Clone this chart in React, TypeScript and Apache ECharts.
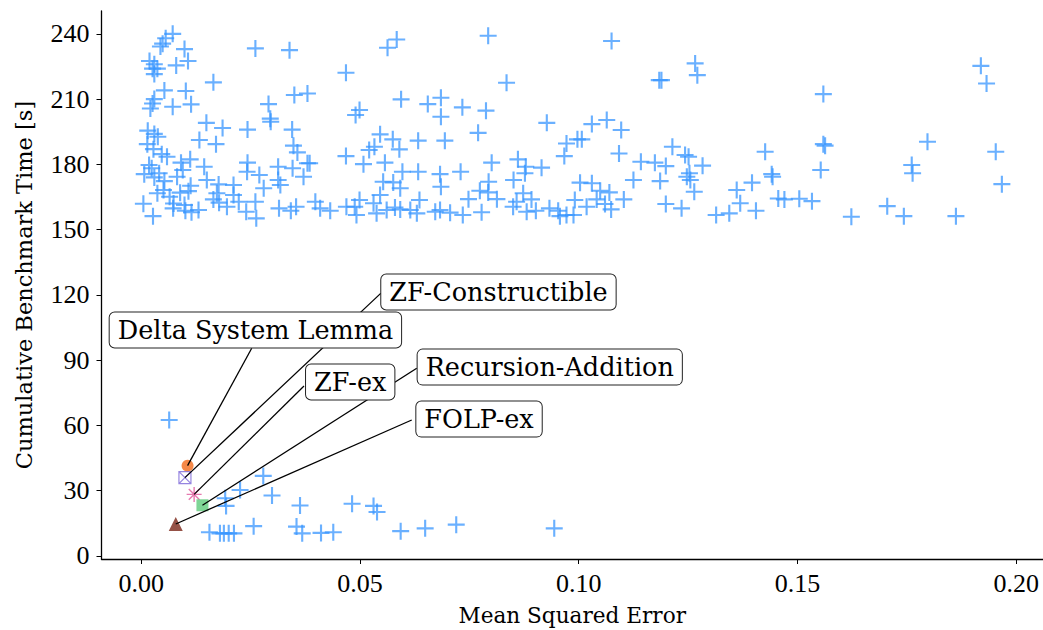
import React, { useEffect, useRef } from "react";
import * as echarts from "echarts";

// Benchmark runs: [mean squared error, cumulative benchmark time in s]
const otherRuns: [number, number][] = [
  [0.0072, 240], [0.0056, 238], [0.0049, 235.5], [0.0044, 234.2], [0.0099, 233], [0.0261, 233.3], [0.0339, 232.5],
  [0.0019, 227.5], [0.003, 226], [0.0026, 224], [0.0037, 224], [0.003, 221.5], [0.0107, 227.5], [0.008, 225.5],
  [0.0165, 217.7], [0.0053, 214], [0.003, 210], [0.0026, 208], [0.0021, 205.7], [0.0102, 213.7], [0.0114, 207.6],
  [0.0072, 206.5], [0.035, 211.9], [0.038, 212.6], [0.0291, 207.7], [0.0295, 201], [0.0296, 199.6], [0.0149, 199.1],
  [0.0186, 196.7], [0.0243, 196], [0.0345, 196], [0.0348, 188.6], [0.0357, 185.5], [0.0015, 195.5], [0.003, 194],
  [0.0038, 192.7], [0.0014, 189.3], [0.0028, 187], [0.0133, 191.2], [0.0171, 189.3], [0.038, 180.5], [0.0047, 184.7],
  [0.0059, 183.5], [0.0007, 175.5], [0.0018, 179.7], [0.0024, 178.2], [0.003, 174], [0.0041, 175.9], [0.0053, 172.3],
  [0.0051, 168.2], [0.0037, 166.7], [0.0065, 165.1], [0.0074, 162], [0.0073, 159.8], [0.0005, 161.9], [0.0027, 156.2],
  [0.0091, 180.8], [0.0095, 177.4], [0.0112, 182.3], [0.0082, 174.3], [0.0089, 167], [0.0113, 170.2], [0.0108, 167.7],
  [0.0099, 161.3], [0.0101, 158.7], [0.0115, 158], [0.0131, 159], [0.0144, 178.9], [0.015, 172.8], [0.0177, 170.8],
  [0.0211, 170.5], [0.0173, 166.7], [0.0165, 163.9], [0.0178, 162.4], [0.0196, 160.5], [0.0211, 165.9], [0.0223, 162.8],
  [0.0261, 162.8], [0.024, 158.2], [0.0263, 155.2], [0.0243, 180.8], [0.0242, 176.6], [0.027, 175.1], [0.028, 169],
  [0.0313, 178.9], [0.0313, 172.8], [0.0318, 170.5], [0.0346, 178.2], [0.0371, 174.3], [0.0385, 180.5], [0.0315, 159.8],
  [0.0342, 158.7], [0.0354, 160.5], [0.0398, 162.8], [0.0409, 159.8], [0.0432, 158.7],
  [0.0563, 233.6], [0.0584, 237.4], [0.0793, 239.1], [0.1075, 236.7], [0.1266, 226.4], [0.1271, 221], [0.0468, 222.1],
  [0.0835, 217.5], [0.1184, 218.7], [0.1189, 218.7], [0.0594, 209.9], [0.0655, 207.7], [0.0685, 210.6], [0.0685, 201.9],
  [0.0734, 206.2], [0.0788, 204.7], [0.0499, 205], [0.049, 202.7], [0.0927, 199.1], [0.103, 198.5], [0.1064, 200.4],
  [0.1097, 195.8], [0.0546, 193.8], [0.0575, 191.5], [0.059, 186.9], [0.0521, 186.6], [0.0533, 188.1], [0.0633, 190.9],
  [0.0694, 190.9], [0.077, 194.5], [0.0972, 189.6], [0.0997, 191.5], [0.1007, 191.5], [0.0967, 183.8], [0.1092, 185],
  [0.0468, 183.8], [0.0508, 180.1], [0.0557, 180.8], [0.0597, 176.6], [0.0633, 176.6], [0.0683, 175.5], [0.0685, 169.7],
  [0.073, 176.6], [0.0801, 180.8], [0.0861, 182.3], [0.0879, 178.9], [0.0877, 175.9], [0.0915, 178.5], [0.0851, 172.8],
  [0.0794, 172], [0.1125, 172.8], [0.1142, 181.2], [0.1174, 180.8], [0.1199, 179.2], [0.1214, 188.1], [0.1243, 184.3],
  [0.1251, 183.5], [0.1253, 175.9], [0.1255, 172.8], [0.1264, 167.4], [0.1186, 172.3], [0.1003, 171.6], [0.103, 171.3],
  [0.1049, 167.9], [0.107, 167.1], [0.1041, 163.9], [0.106, 161.8], [0.1074, 159.3], [0.1103, 163.9], [0.0991, 163.6],
  [0.1018, 160.5], [0.0988, 156.7], [0.0953, 158.7], [0.0957, 156.2], [0.0972, 156.7], [0.0933, 159.8], [0.0902, 158.7],
  [0.0881, 158.2], [0.0892, 163.9], [0.0873, 166.7], [0.0858, 162.8], [0.085, 160.5], [0.0813, 164], [0.0778, 158],
  [0.0748, 164], [0.0735, 156.7], [0.0706, 157.8], [0.0683, 159], [0.0672, 158.2], [0.0636, 163.6], [0.063, 157.5],
  [0.0615, 159], [0.0592, 159.3], [0.058, 160.2], [0.0561, 159], [0.0546, 165.9], [0.0538, 157.5], [0.0553, 172],
  [0.0576, 171.7], [0.0592, 169], [0.0531, 162.1], [0.0499, 163.6], [0.0488, 160.5], [0.0469, 160.5], [0.0492, 156.7],
  [0.0774, 167.9], [0.0793, 167.1], [0.1199, 161.8], [0.1235, 159.8], [0.1247, 174.3],
  [0.1559, 212.3], [0.1919, 225.3], [0.1932, 217.2], [0.1426, 185.8], [0.1559, 189.3], [0.1563, 188.6], [0.1283, 179.4],
  [0.1797, 190.4], [0.1953, 185.8], [0.1761, 179.7], [0.1763, 175.9], [0.1967, 170.9], [0.1553, 177.4], [0.1441, 175.5],
  [0.1443, 174.3], [0.1396, 171.6], [0.1361, 168.2], [0.1369, 162.1], [0.1405, 158.7], [0.1344, 157.5], [0.1314, 156.7],
  [0.1456, 164.3], [0.147, 163.9], [0.1504, 164.2], [0.1533, 163.1], [0.1623, 155.9], [0.1705, 160.8], [0.1743, 156.2],
  [0.1862, 156.2],
  [0.0064, 62.5], [0.0279, 36.8], [0.0226, 30.3], [0.0299, 27.8], [0.0192, 26.5], [0.0194, 23], [0.0363, 23.2],
  [0.0482, 24], [0.0531, 23], [0.0539, 20.2], [0.0257, 13.7], [0.0355, 13.5], [0.0368, 10.4], [0.0156, 10.9],
  [0.018, 10.4], [0.0189, 10.4], [0.02, 10.4], [0.0212, 10.4], [0.0411, 10.6], [0.0439, 10.9], [0.0593, 11.4],
  [0.0649, 12.7], [0.072, 14.4], [0.0944, 12.7],
];

// Highlighted benchmarks
const highlightNames = ["Delta System Lemma", "ZF-Constructible", "ZF-ex", "Recursion-Addition", "FOLP-ex"];
const highlightMse = [0.0106, 0.01, 0.0121, 0.014, 0.0079];
const highlightTime = [41.5, 36.0, 28.3, 23.3, 14.7];

// Tick values
const xTicks = [0, 0.05, 0.1, 0.15, 0.2];
const yTicks = [0, 30, 60, 90, 120, 150, 180, 210, 240];

// Annotation box centres and connector attachment points (data units)
const labelCenters: [number, number][] = [
  [0.0261, 103.9], [0.08165, 121.3], [0.04777, 80.0], [0.09337, 86.8], [0.07721, 62.9],
];
const connectorStarts: [number, number][] = [
  [0.02526, 95.45], [0.05474, 120.7], [0.03721, 78.1], [0.06297, 86.3], [0.06183, 62.5],
];

const FONT = "'DejaVu Serif', 'Liberation Serif', serif";
const TICK_FONT = "'Liberation Serif', 'DejaVu Serif', serif";
const CROSS = "path://M-1,-8H1V-1H8V1H1V8H-1V1H-8V-1H-1Z";
const BOXX = "path://M0,0H10V10H0Z M0,0L10,10 M10,0L0,10";
const STAR = "path://M0,-7V7 M-7,0H7 M-5,-5L5,5 M5,-5L-5,5";

const markerStyles = [
  { symbol: "circle", size: 12, itemStyle: { color: "#f36b1c" } },
  { symbol: BOXX, size: 12, itemStyle: { color: "rgba(255,255,255,0)", borderColor: "#7c67d8", borderWidth: 1.2 } },
  { symbol: STAR, size: 15, itemStyle: { color: "rgba(255,255,255,0)", borderColor: "#e0579b", borderWidth: 1.4 } },
  { symbol: "rect", size: 12, itemStyle: { color: "#5fcb7c" } },
  { symbol: "triangle", size: 14, itemStyle: { color: "#7b2518" } },
];

export default function App() {
  const ref = useRef<HTMLDivElement>(null);

  useEffect(() => {
    if (!ref.current) return;
    const chart = echarts.init(ref.current, null, { renderer: "svg" });

    const highlightData = highlightNames.map((name, i) => ({
      name,
      value: [highlightMse[i], highlightTime[i]],
      symbol: markerStyles[i].symbol,
      symbolSize: markerStyles[i].size,
      itemStyle: markerStyles[i].itemStyle,
    }));

    const connectors = highlightNames.map((_, i) => [
      { coord: connectorStarts[i] },
      { coord: [highlightMse[i], highlightTime[i]] },
    ]);

    const labelData = highlightNames.map((name, i) => ({ name, value: labelCenters[i] }));

    chart.setOption({
      animation: false,
      backgroundColor: "#fff",
      grid: { left: 101.5, right: 0, top: 11, bottom: 71, containLabel: false, outerBoundsMode: "none" },
      xAxis: {
        type: "value",
        min: -0.00907,
        max: 0.2061,
        name: "Mean Squared Error",
        nameLocation: "middle",
        nameGap: 45,
        nameTextStyle: { fontFamily: FONT, fontSize: 21.6, color: "#000" },
        axisLine: { show: true, onZero: false, lineStyle: { color: "#000", width: 1.3 } },
        axisTick: { show: true, customValues: xTicks, length: 5, lineStyle: { color: "#000", width: 1 } },
        axisLabel: {
          customValues: xTicks,
          formatter: (v: number) => v.toFixed(2),
          fontFamily: TICK_FONT,
          fontSize: 26,
          color: "#000",
          margin: 11,
        },
        splitLine: { show: false },
      },
      yAxis: {
        type: "value",
        min: -1.4,
        max: 250.5,
        name: "Cumulative Benchmark Time [s]",
        nameLocation: "middle",
        nameGap: 66,
        nameTextStyle: { fontFamily: FONT, fontSize: 22.5, color: "#000" },
        axisLine: { show: true, onZero: false, lineStyle: { color: "#000", width: 1.3 } },
        axisTick: { show: true, customValues: yTicks, length: 5, lineStyle: { color: "#000", width: 1 } },
        axisLabel: {
          customValues: yTicks,
          fontFamily: TICK_FONT,
          fontSize: 26,
          color: "#000",
          margin: 12,
        },
        splitLine: { show: false },
      },
      series: [
        {
          type: "scatter",
          z: 1,
          data: otherRuns,
          symbol: CROSS,
          symbolSize: 17,
          itemStyle: { color: "#3895ff", opacity: 0.75 },
          silent: true,
        },
        {
          type: "scatter",
          z: 2,
          data: highlightData,
          silent: true,
        },
        {
          type: "scatter",
          z: 3,
          data: [],
          silent: true,
          markLine: {
            silent: true,
            symbol: ["none", "arrow"],
            symbolSize: [0, 7],
            label: { show: false },
            lineStyle: { color: "#000", width: 1.3, type: "solid", opacity: 1 },
            data: connectors,
          },
        },
        {
          type: "scatter",
          z: 5,
          data: labelData,
          symbol: "circle",
          symbolSize: 0,
          silent: true,
          itemStyle: { color: "#000", opacity: 1 },
          label: {
            show: true,
            position: [0, 0],
            align: "center",
            verticalAlign: "middle",
            formatter: (p: any) => p.name,
            fontFamily: FONT,
            fontSize: 25.5,
            color: "#000",
            opacity: 1,
            textBorderWidth: 0,
            backgroundColor: "#fff",
            borderColor: "#222",
            borderWidth: 1,
            borderRadius: 5,
            padding: [5, 8, 4, 8],
          },
        },
      ],
    });

    return () => chart.dispose();
  }, []);

  return <div ref={ref} style={{ position: "fixed", left: 0, top: 0, width: 1043, height: 630 }} />;
}
